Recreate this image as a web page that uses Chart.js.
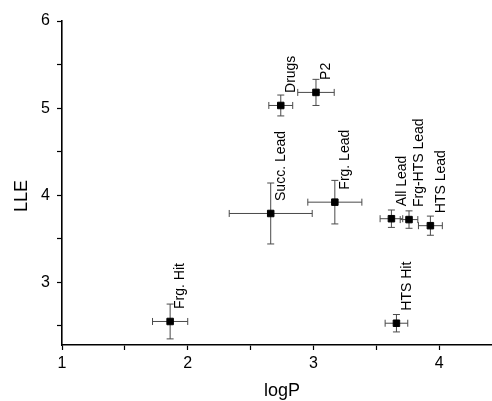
<!DOCTYPE html>
<html><head><meta charset="utf-8">
<script src="https://cdn.jsdelivr.net/npm/chart.js@4/dist/chart.umd.min.js"></script>
<style>html,body{margin:0;padding:0;background:#fff;overflow:hidden}</style>
</head><body>
<canvas id="c" width="492" height="401"></canvas>
<script>
const categories = ["Frg. Hit", "HTS Hit", "Succ. Lead", "Frg. Lead", "Drugs", "P2", "All Lead", "Frg-HTS Lead", "HTS Lead"];
const logP       = [1.86, 3.66, 2.66, 3.17, 2.74, 3.02, 3.62, 3.76, 3.93];
const lle        = [2.55, 2.53, 3.79, 3.92, 5.03, 5.18, 3.73, 3.72, 3.65];
const logPErr    = [0.14, 0.09, 0.33, 0.215, 0.095, 0.145, 0.09, 0.07, 0.095];
const lleErr     = [0.20, 0.10, 0.35, 0.25, 0.12, 0.15, 0.10, 0.10, 0.11];
const xMajorTicks = [1, 2, 3, 4];
const xMinorTicks = [1.5, 2.5, 3.5];
const yMajorTicks = [3, 4, 5, 6];
const yMinorTicks = [2.5, 3.5, 4.5, 5.5];
const xTitle = "logP";
const yTitle = "LLE";

const FONT = "'Liberation Sans', Arial, sans-serif";

const errorBars = {
  id: 'errorBars',
  beforeDatasetsDraw(chart) {
    const {ctx, scales: {x, y}} = chart;
    ctx.save();
    ctx.strokeStyle = '#4a4a4a';
    ctx.lineWidth = 1;
    const cap = 3.5;
    for (let i = 0; i < logP.length; i++) {
      const px = x.getPixelForValue(logP[i]);
      const py = y.getPixelForValue(lle[i]);
      const x0 = x.getPixelForValue(logP[i] - logPErr[i]);
      const x1 = x.getPixelForValue(logP[i] + logPErr[i]);
      const y0 = y.getPixelForValue(lle[i] + lleErr[i]);
      const y1 = y.getPixelForValue(lle[i] - lleErr[i]);
      ctx.beginPath();
      ctx.moveTo(x0, py); ctx.lineTo(x1, py);
      ctx.moveTo(x0, py - cap); ctx.lineTo(x0, py + cap);
      ctx.moveTo(x1, py - cap); ctx.lineTo(x1, py + cap);
      ctx.moveTo(px, y0); ctx.lineTo(px, y1);
      ctx.moveTo(px - cap, y0); ctx.lineTo(px + cap, y0);
      ctx.moveTo(px - cap, y1); ctx.lineTo(px + cap, y1);
      ctx.stroke();
    }
    ctx.restore();
  },
  afterDatasetsDraw(chart) {
    const {ctx, scales: {x, y}} = chart;
    ctx.save();
    ctx.fillStyle = '#000';
    ctx.font = '14px ' + FONT;
    ctx.textAlign = 'left';
    ctx.textBaseline = 'middle';
    for (let i = 0; i < logP.length; i++) {
      const px = x.getPixelForValue(logP[i]);
      const py = y.getPixelForValue(lle[i]);
      ctx.save();
      ctx.translate(px + 10.5, py - 12.5);
      ctx.rotate(-Math.PI / 2);
      ctx.fillText(categories[i], 0, 0);
      ctx.restore();
    }
    ctx.restore();
  },
  afterDraw(chart) {
    const {ctx} = chart;
    ctx.save();
    ctx.fillStyle = '#000';
    ctx.font = '18px ' + FONT;
    ctx.textAlign = 'center';
    ctx.textBaseline = 'middle';
    ctx.fillText(xTitle, 282, 391);
    ctx.translate(22, 196);
    ctx.rotate(-Math.PI / 2);
    ctx.fillText(yTitle, 0, 0);
    ctx.restore();
  }
};

const axisCommon = {
  grid: { drawOnChartArea: false, drawTicks: true, tickLength: 5, tickColor: '#000', tickWidth: 1.2 },
  border: { display: true, color: '#000', width: 1.6 },
  title: { display: false }
};

new Chart(document.getElementById('c'), {
  type: 'scatter',
  data: {
    datasets: [{
      data: logP.map((v, i) => ({x: v, y: lle[i]})),
      pointStyle: 'rect',
      pointRadius: 4.6,
      pointHoverRadius: 4.6,
      backgroundColor: '#000',
      borderColor: '#000',
      borderWidth: 1
    }]
  },
  options: {
    responsive: false,
    animation: false,
    devicePixelRatio: 1,
    layout: { autoPadding: false, padding: { top: 21, right: 0, left: 0, bottom: 0 } },
    plugins: { legend: { display: false }, tooltip: { enabled: false } },
    scales: {
      x: {
        ...axisCommon,
        type: 'linear',
        min: 1, max: 4.42,
        afterBuildTicks: s => { s.ticks = [...xMajorTicks, ...xMinorTicks].sort((a,b)=>a-b).map(v => ({value: v})); },
        afterFit: s => { s.height = 56; s.paddingRight = 0; s.paddingLeft = 0; },
        ticks: {
          color: '#000', padding: 4, maxRotation: 0, autoSkip: false,
          font: { family: FONT, size: 16 },
          callback: v => xMajorTicks.includes(v) ? String(v) : ''
        }
      },
      y: {
        ...axisCommon,
        type: 'linear',
        min: 2.28, max: 6,
        afterBuildTicks: s => { s.ticks = [...yMajorTicks, ...yMinorTicks].sort((a,b)=>a-b).map(v => ({value: v})); },
        afterFit: s => { s.width = 62; },
        ticks: {
          color: '#000', padding: 7, autoSkip: false,
          font: { family: FONT, size: 16 },
          callback: v => yMajorTicks.includes(v) ? String(v) : ''
        }
      }
    }
  },
  plugins: [errorBars]
});
</script>
</body></html>
